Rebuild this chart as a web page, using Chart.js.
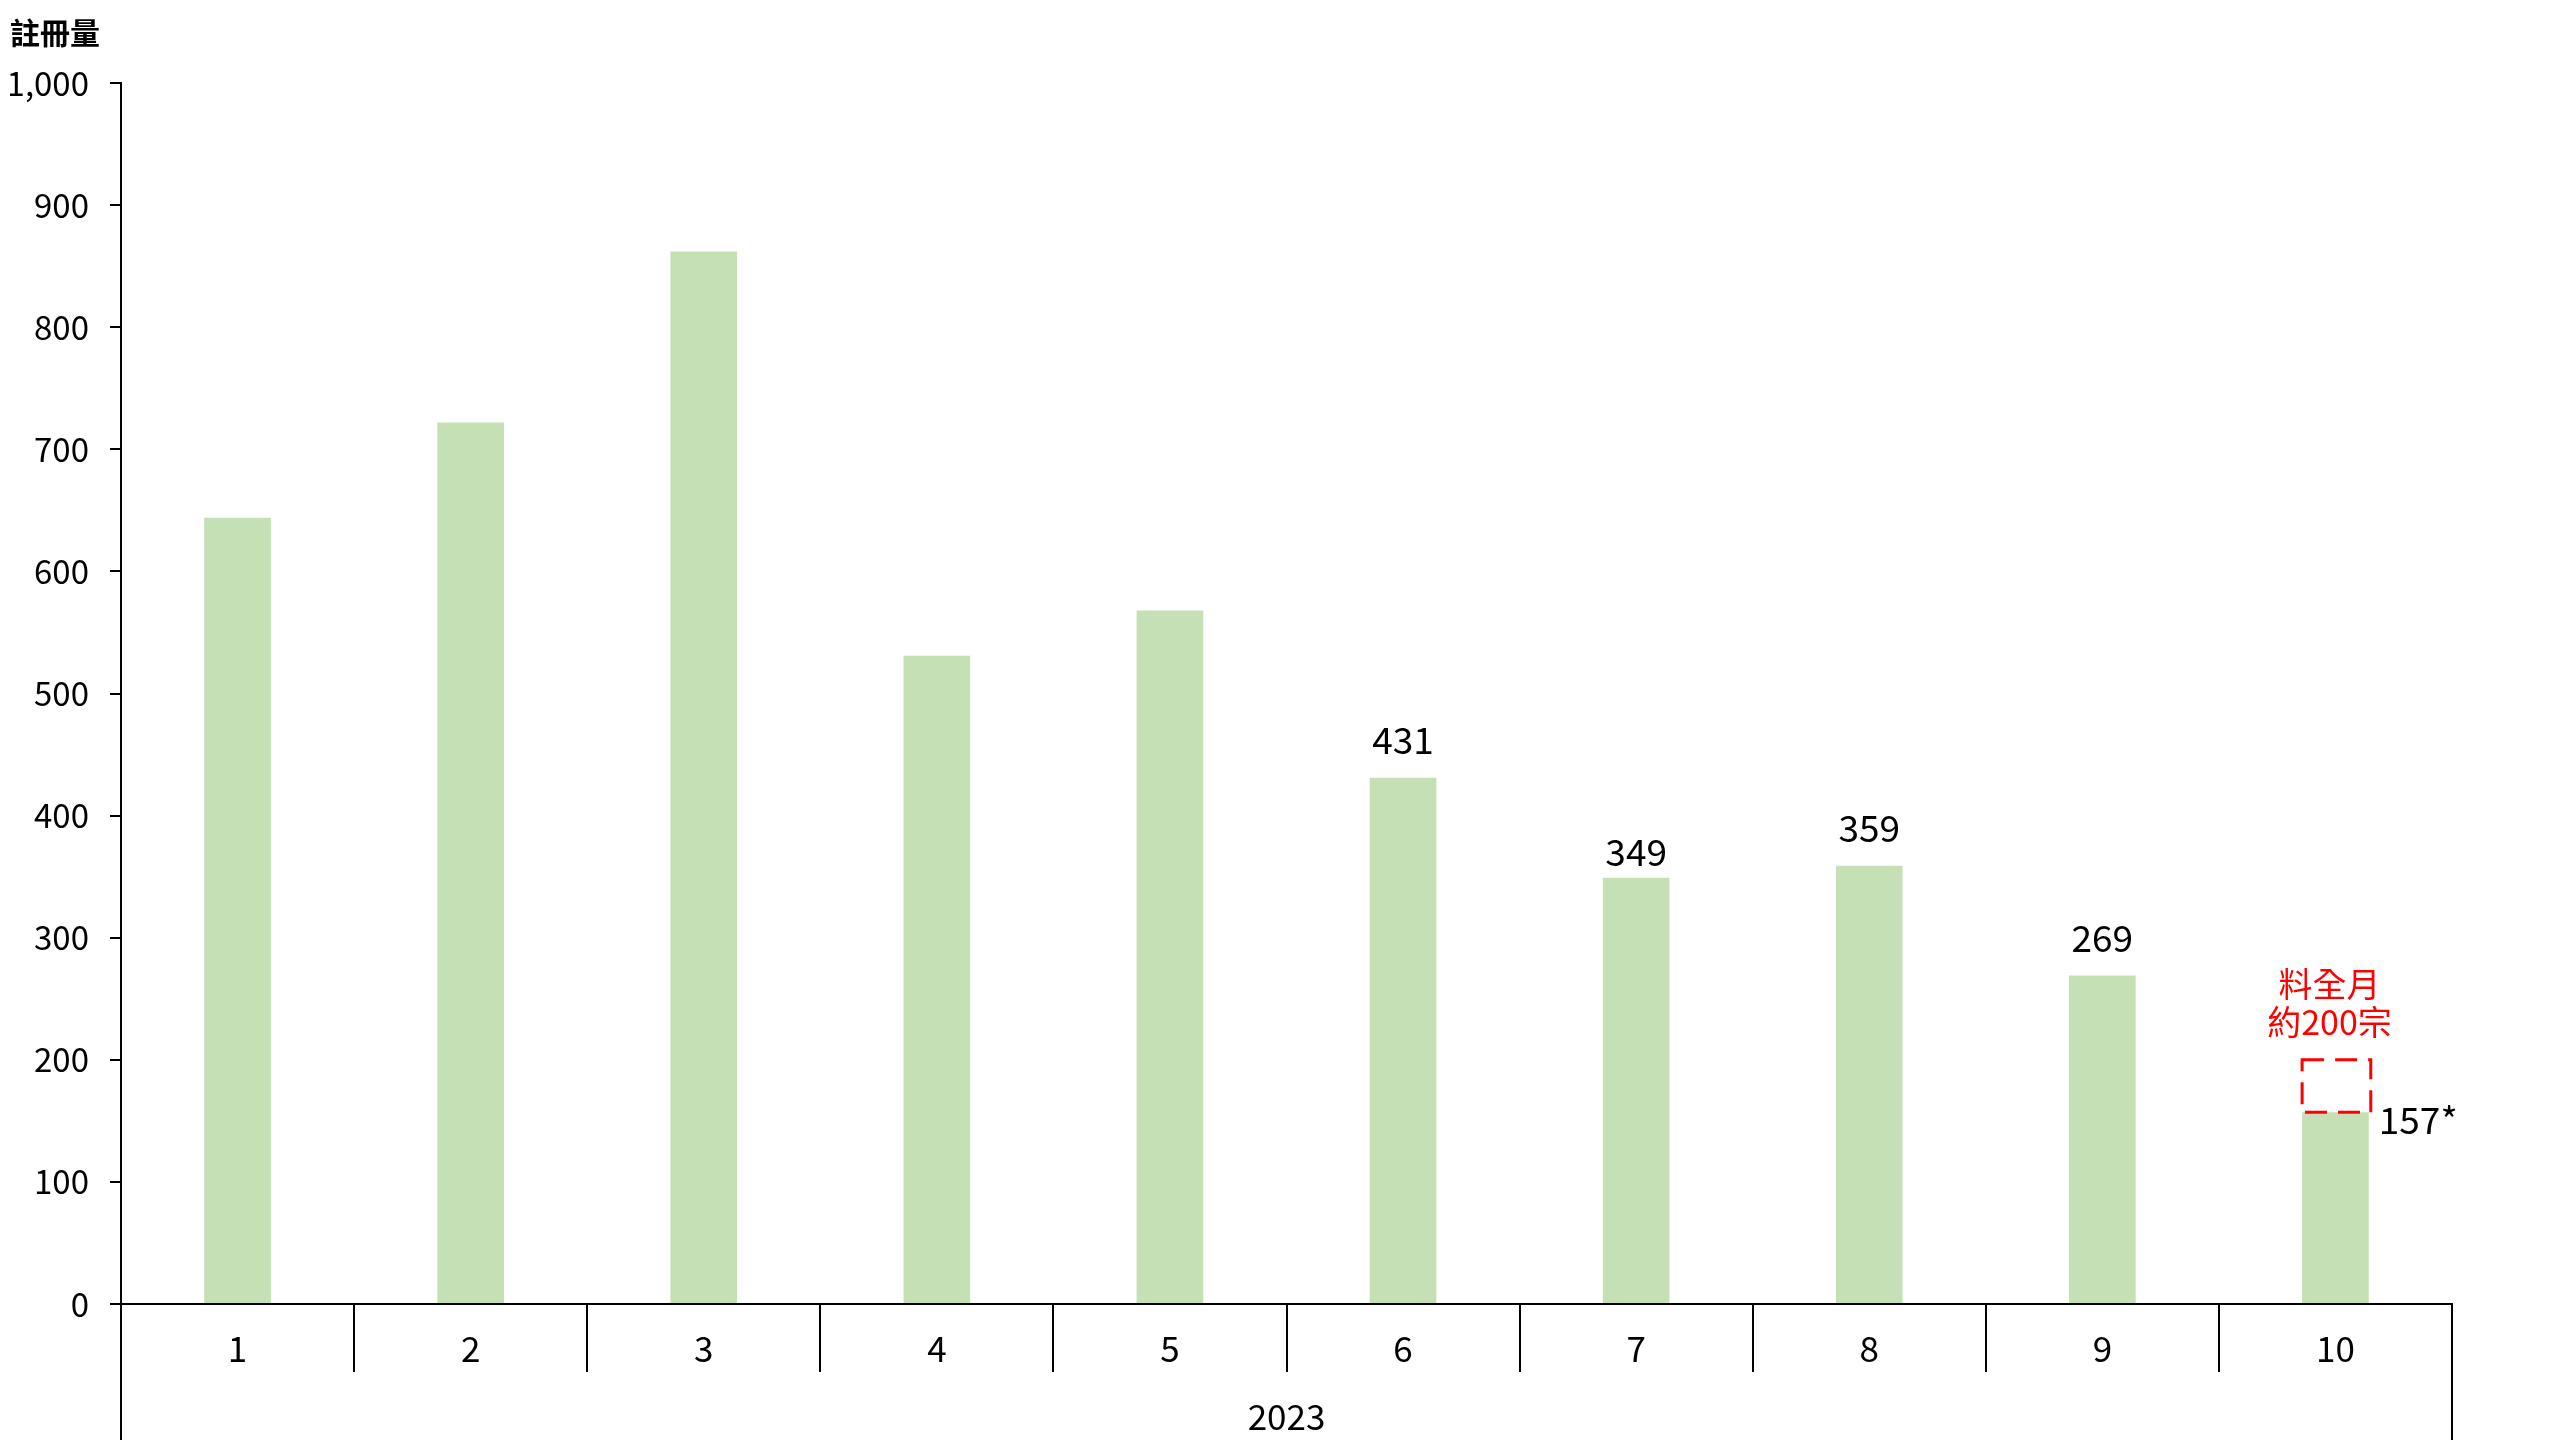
<!DOCTYPE html>
<html>
<head>
<meta charset="utf-8">
<script src="https://cdn.jsdelivr.net/npm/chart.js@4.4.0/dist/chart.umd.min.js"></script>
<style>
  body { margin: 0; background: #fff; }
  #wrap { width: 2560px; height: 1440px; }
</style>
</head>
<body>
<div id="wrap"><canvas id="chart" width="2560" height="1440"></canvas></div>
<script>
const months = ['1', '2', '3', '4', '5', '6', '7', '8', '9', '10'];
const registrations = [644, 722, 862, 531, 568, 431, 349, 359, 269, 157];
const valueLabels = ['', '', '', '', '', '431', '349', '359', '269', '157*'];
const yearLabel = '2023';
const projectedFullMonth = 200;
const projectionNote = ['料全月', '約200宗'];

const FONT = '"Noto Sans CJK TC", "Noto Sans", sans-serif';
const BAR_GREEN = '#C5E0B4';
// the label of July sits a little lower in the original
const LABEL_NUDGE = { 6: 12 };

// numbers above bars, dashed projection box and red note on the last month
const annotatePlugin = {
    id: 'annotate',
    afterDatasetsDraw(chart) {
        const ctx = chart.ctx;
        const meta = chart.getDatasetMeta(0);
        const yScale = chart.scales.y;
        const last = meta.data.length - 1;
        ctx.save();
        ctx.font = '37px ' + FONT;
        ctx.fillStyle = '#000';
        ctx.textBaseline = 'middle';
        meta.data.forEach((bar, i) => {
            const text = valueLabels[i];
            if (!text) return;
            if (i === last) {
                ctx.textAlign = 'left';
                ctx.fillText(text, bar.x + bar.width / 2 + 10, bar.y + 8);
            } else {
                ctx.textAlign = 'center';
                ctx.fillText(text, bar.x, bar.y - 38 + (LABEL_NUDGE[i] || 0));
            }
        });

        const bar = meta.data[last];
        const top = yScale.getPixelForValue(projectedFullMonth);
        ctx.strokeStyle = '#FF0000';
        ctx.lineWidth = 3;
        ctx.setLineDash([22, 11]);
        ctx.strokeRect(bar.x - bar.width / 2, top, bar.width + 2, bar.y - top);
        ctx.setLineDash([]);

        ctx.fillStyle = '#FF0000';
        ctx.textAlign = 'center';
        ctx.font = '34px ' + FONT;
        ctx.fillText(projectionNote[0], bar.x - 6, top - 76);
        ctx.fillText(projectionNote[1], bar.x - 6, top - 38);
        ctx.restore();
    },
    afterDraw(chart) {
        // outer lines of the two-level category axis run down to the bottom
        const { ctx, chartArea } = chart;
        ctx.save();
        ctx.strokeStyle = '#000';
        ctx.lineWidth = 2;
        ctx.beginPath();
        ctx.moveTo(chartArea.left, chartArea.bottom);
        ctx.lineTo(chartArea.left, chart.height);
        ctx.moveTo(chartArea.right, chartArea.bottom);
        ctx.lineTo(chartArea.right, chart.height);
        ctx.stroke();
        ctx.restore();
    }
};

new Chart(document.getElementById('chart'), {
    type: 'bar',
    data: {
        labels: months,
        datasets: [{
            data: registrations,
            backgroundColor: BAR_GREEN,
            borderWidth: 0,
            barPercentage: 0.286,
            categoryPercentage: 1.0
        }]
    },
    options: {
        responsive: false,
        animation: false,
        layout: { padding: { left: 10, right: 108, top: 0, bottom: 0 } },
        plugins: {
            legend: { display: false },
            tooltip: { enabled: false },
            title: {
                display: true,
                text: '註冊量',
                align: 'start',
                color: '#000',
                font: { family: FONT, size: 30, weight: 'bold' },
                padding: { top: 15, bottom: 32 }
            }
        },
        scales: {
            x: {
                offset: true,
                grid: {
                    offset: true,
                    drawOnChartArea: false,
                    drawTicks: true,
                    tickLength: 68,
                    color: '#000',
                    lineWidth: 2
                },
                border: { color: '#000', width: 2 },
                ticks: {
                    color: '#000',
                    font: { family: FONT, size: 35 },
                    padding: -44,
                    maxRotation: 0
                },
                title: {
                    display: true,
                    text: yearLabel,
                    color: '#000',
                    font: { family: FONT, size: 35 },
                    padding: { top: 0, bottom: 2 }
                },
                afterFit(scale) { scale.height = 136; }
            },
            y: {
                min: 0,
                max: 1000,
                grid: {
                    drawOnChartArea: false,
                    drawTicks: true,
                    tickLength: 11,
                    color: '#000',
                    lineWidth: 2
                },
                border: { color: '#000', width: 2 },
                ticks: {
                    stepSize: 100,
                    color: '#000',
                    font: { family: FONT, size: 33 },
                    padding: 21,
                    callback: v => v.toLocaleString('en-US')
                },
                afterFit(scale) { scale.width = 111; }
            }
        }
    },
    plugins: [annotatePlugin]
});
</script>
</body>
</html>
